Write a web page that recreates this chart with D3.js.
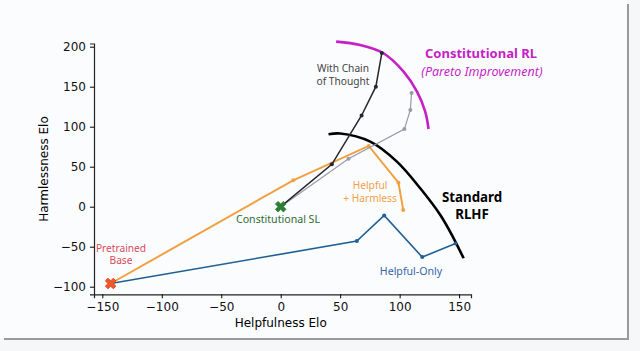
<!DOCTYPE html>
<html>
<head>
<meta charset="utf-8">
<script src="https://cdn.jsdelivr.net/npm/d3@7"></script>
<style>
  body { margin: 0; background: #f6f7f9; }
  svg { display: block; }
  .tick text { font-family: "DejaVu Sans", sans-serif; font-size: 12px; fill: #111; }
  .note { font-family: "Noto Sans", sans-serif; }
</style>
</head>
<body>
<div id="container"></div>
<script>
/* CONSTANTS AND GLOBALS */
const width = 640,
  height = 351;

/* DATA */
const xTicks = [-150, -100, -50, 0, 50, 100, 150];
const yTicks = [-100, -50, 0, 50, 100, 150, 200];

const pretrainedBase = [-143, -96];
const constitutionalSL = [0, 0];

const helpfulOnly = [[-143, -96], [64, -43], [87, -11], [119, -63], [147, -46]];
const helpfulHarmless = [[-143, -96], [10.5, 33], [74, 76], [99, 30], [103, -4]];
const chainOfThought = [[0, 0], [43, 53], [68, 114], [80, 150], [85, 192]];
const constitutionalRL = [[0, 0], [57, 60], [104, 97], [109, 121], [110, 142]];

// frontier curves
const paretoArc = [[46.6, 206.3], [66.8, 202.1], [86.4, 191.8], [103.3, 168.8], [114.6, 143.8], [121.5, 118.8], [124.3, 97.1]];
const rlhfArc = [[40.2, 90.5], [50, 91.5], [75.3, 81.3], [97.7, 56.3], [117.3, 23], [134.2, -10.4], [145.4, -39.5], [153.8, -64.5]];

/* CREATE SVG ELEMENT */
const svg = d3.select("#container")
  .append("svg")
  .attr("width", width)
  .attr("height", height)

// card with shadow
svg.append("rect")
  .attr("x", 4).attr("y", 4).attr("width", 625).attr("height", 336)
  .attr("fill", "#9a9a9e")
svg.append("rect")
  .attr("x", 0).attr("y", 0).attr("width", 627).attr("height", 338)
  .attr("fill", "#fbfcfe")

// SCALES
const xScale = d3.scaleLinear()
  .domain([-157, 160])
  .range([94, 471])

const yScale = d3.scaleLinear()
  .domain([-109.5, 204])
  .range([294.3, 43.5])

// AXES
const minus = d => String(d).replace("-", "\u2212")

svg.append("g")
  .attr("transform", `translate(0,${yScale(-109.5)})`)
  .call(d3.axisBottom(xScale).tickValues(xTicks).tickSizeOuter(0).tickSize(4).tickPadding(4).tickFormat(minus))
  .call(g => g.select(".domain").attr("stroke", "#222").attr("stroke-width", 1.2))

svg.append("g")
  .attr("transform", `translate(${xScale(-157)},0)`)
  .call(d3.axisLeft(yScale).tickValues(yTicks).tickSizeOuter(0).tickSize(4).tickPadding(4).tickFormat(minus))
  .call(g => g.select(".domain").attr("stroke", "#222").attr("stroke-width", 1.2))

svg.append("text")
  .attr("x", xScale(0)).attr("y", 327)
  .attr("text-anchor", "middle")
  .style("font-family", "DejaVu Sans, sans-serif").style("font-size", "12px")
  .text("Helpfulness Elo")

svg.append("text")
  .attr("transform", `translate(48,169) rotate(-90)`)
  .attr("text-anchor", "middle")
  .style("font-family", "DejaVu Sans, sans-serif").style("font-size", "12px")
  .text("Harmlessness Elo")

// LINE GENERATORS
const lineGen = d3.line()
  .x(d => xScale(d[0]))
  .y(d => yScale(d[1]))

const curveGen = d3.line()
  .x(d => xScale(d[0]))
  .y(d => yScale(d[1]))
  .curve(d3.curveCatmullRom)

// frontiers
svg.append("path").attr("d", curveGen(paretoArc))
  .attr("fill", "none").attr("stroke", "#c51fc5").attr("stroke-width", 2.6)
svg.append("path").attr("d", curveGen(rlhfArc))
  .attr("fill", "none").attr("stroke", "#000").attr("stroke-width", 2.6)

// series
const series = [
  { data: helpfulOnly, color: "#1f5f94", w: 1.6 },
  { data: helpfulHarmless, color: "#f0a040", w: 2 },
  { data: constitutionalRL, color: "#9a9aa8", w: 1.2 },
  { data: chainOfThought, color: "#262630", w: 1.5 }
]

series.forEach(s => {
  svg.append("path")
    .attr("d", lineGen(s.data))
    .attr("fill", "none")
    .attr("stroke", s.color)
    .attr("stroke-width", s.w)
  svg.selectAll(null)
    .data(s.data.slice(1))
    .join("circle")
    .attr("cx", d => xScale(d[0]))
    .attr("cy", d => yScale(d[1]))
    .attr("r", 2)
    .attr("fill", s.color)
})

// X markers
const xMark = d3.symbol().type(d3.symbolCross).size(70)
svg.append("path").attr("d", xMark())
  .attr("transform", `translate(${xScale(pretrainedBase[0])},${yScale(pretrainedBase[1])}) rotate(45)`)
  .attr("fill", "#ee5a24").attr("stroke", "#e03b2a").attr("stroke-width", 0.8)
svg.append("path").attr("d", xMark())
  .attr("transform", `translate(${xScale(constitutionalSL[0])},${yScale(constitutionalSL[1])}) rotate(45)`)
  .attr("fill", "#2e7d32").attr("stroke", "#2e7d32").attr("stroke-width", 0.8)

// ANNOTATIONS
const notes = [
  { t: "Pretrained", x: 121, y: 251.5, c: "#d84a5a", s: 10.2 },
  { t: "Base", x: 121, y: 264, c: "#d84a5a", s: 10.2 },
  { t: "Constitutional SL", x: 278, y: 223, c: "#2f6b33", s: 10.6 },
  { t: "Helpful-Only", x: 411, y: 275, c: "#3566a8", s: 10.6 },
  { t: "Helpful", x: 370, y: 189, c: "#f0a04a", s: 10.2 },
  { t: "+ Harmless", x: 370, y: 202, c: "#f0a04a", s: 10.2 },
  { t: "With Chain", x: 343, y: 72, c: "#444", s: 10.2 },
  { t: "of Thought", x: 343, y: 85, c: "#444", s: 10.2 }
]
notes.forEach(n => {
  svg.append("text").attr("class", "note")
    .attr("x", n.x).attr("y", n.y)
    .attr("text-anchor", "middle")
    .attr("fill", n.c)
    .style("font-size", n.s + "px")
    .text(n.t)
})

svg.append("text").attr("class", "note")
  .attr("x", 481).attr("y", 58).attr("text-anchor", "middle")
  .attr("fill", "#c51fc5").style("font-size", "13px").style("font-weight", "bold")
  .text("Constitutional RL")
svg.append("text").attr("class", "note")
  .attr("x", 482).attr("y", 75.5).attr("text-anchor", "middle")
  .attr("fill", "#c51fc5").style("font-size", "12.5px").style("font-style", "italic")
  .text("(Pareto Improvement)")

svg.append("text").attr("class", "note")
  .attr("x", 472).attr("y", 202).attr("text-anchor", "middle")
  .attr("fill", "#000").style("font-size", "13.3px").style("font-weight", "bold")
  .text("Standard")
svg.append("text").attr("class", "note")
  .attr("x", 472).attr("y", 219).attr("text-anchor", "middle")
  .attr("fill", "#000").style("font-size", "13.3px").style("font-weight", "bold")
  .text("RLHF")
</script>
</body>
</html>
